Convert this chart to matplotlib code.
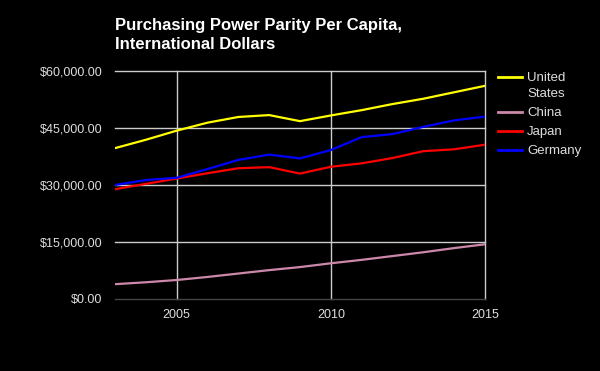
import matplotlib.pyplot as plt
from matplotlib.lines import Line2D
from matplotlib.ticker import FuncFormatter

plt.rcParams['font.family'] = ['Liberation Sans', 'DejaVu Sans']

years = list(range(2003, 2016))
united_states = [39.7, 41.9, 44.3, 46.4, 47.9, 48.4, 46.8, 48.3, 49.7, 51.3, 52.7, 54.4, 56.1]
china = [3.9, 4.4, 5.0, 5.8, 6.7, 7.6, 8.4, 9.4, 10.3, 11.3, 12.3, 13.4, 14.4]
japan = [28.9, 30.3, 31.7, 33.1, 34.4, 34.7, 33.0, 34.8, 35.7, 37.1, 38.9, 39.4, 40.6]
germany = [30.0, 31.3, 31.9, 34.2, 36.6, 38.0, 37.0, 39.2, 42.6, 43.4, 45.3, 47.0, 48.0]

names = ['United\nStates', 'China', 'Japan', 'Germany']
series = [united_states, china, japan, germany]
colors = ['#ffff00', '#cc88aa', '#ff0000', '#0000ff']

fig = plt.figure(figsize=(6, 3.71), dpi=100, facecolor='black')
ax = fig.add_axes([115 / 600, 1 - 299 / 371, 370 / 600, 228 / 371])
ax.set_facecolor('black')

for vals, c in zip(series, colors):
    ax.plot(years, [v * 1000 for v in vals], color=c, lw=1.6, zorder=3)

ax.set_xlim(2003, 2015)
ax.set_ylim(0, 60000)
ax.set_xticks([2005, 2010, 2015])
ax.set_yticks([15000, 30000, 45000, 60000])
ax.set_yticks([0], minor=True)
ax.yaxis.set_major_formatter(FuncFormatter(lambda v, p: '${:,.2f}'.format(v)))
ax.yaxis.set_minor_formatter(FuncFormatter(lambda v, p: '${:,.2f}'.format(v)))
ax.grid(True, color='#cccccc', lw=1, zorder=1)
for gl in ax.get_xgridlines() + ax.get_ygridlines():
    gl.set_clip_on(False)
ax.axhline(0, color='#444444', lw=1, zorder=2, clip_on=False)
for s in ax.spines.values():
    s.set_visible(False)
ax.tick_params(which='both', length=0, colors='#dddddd', labelsize=9)
ax.tick_params(axis='y', which='both', pad=9)
ax.tick_params(axis='x', pad=7)

fig.text(115 / 600, 1 - 35 / 371, 'Purchasing Power Parity Per Capita,\nInternational Dollars',
         color='white', fontsize=12, fontweight='bold', va='center', ha='left',
         linespacing=1.35)

# legend drawn by hand so the swatch sits on the first line of the label
legend_y = [77, 112, 131, 150]
for name, c, y in zip(names, colors, legend_y):
    fy = 1 - y / 371
    fig.add_artist(Line2D([498 / 600, 522 / 600], [fy, fy], color=c, lw=2,
                          transform=fig.transFigure))
    fig.text(527 / 600, fy + 5 / 371, name, color='#dddddd', fontsize=9.5,
             va='top', ha='left', linespacing=1.4)

fig.savefig('out.png', dpi=100, facecolor='black')
